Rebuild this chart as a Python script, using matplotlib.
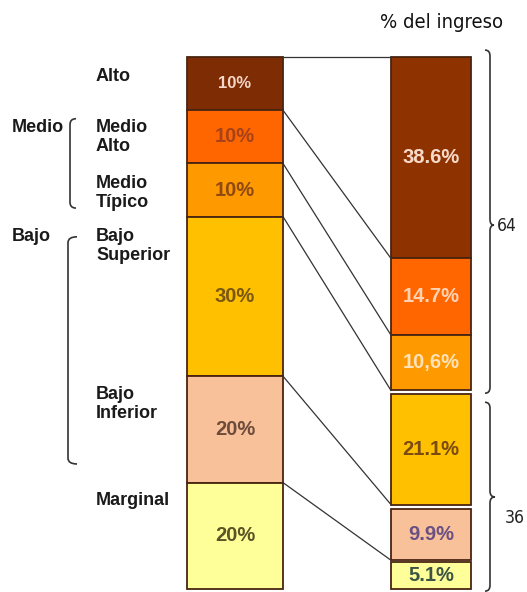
import matplotlib
matplotlib.use("Agg")
import matplotlib.pyplot as plt
from matplotlib.path import Path
from matplotlib.patches import PathPatch
from matplotlib import font_manager
from matplotlib.font_manager import FontProperties
import numpy as np

# Population strata (share of households) and their share of income
strata = ["Alto", "Medio\nAlto", "Medio\nTípico", "Bajo\nSuperior", "Bajo\nInferior", "Marginal"]
poblacion = [10, 10, 10, 30, 20, 20]
ingreso = [38.6, 14.7, 10.6, 21.1, 9.9, 5.1]
ingreso_labels = ["38.6%", "14.7%", "10,6%", "21.1%", "9.9%", "5.1%"]
grupos = ["Medio", "Bajo"]
totales = ["64", "36"]

colores = ["#7E2C04", "#FF6600", "#FF9900", "#FFC000", "#F9C19A", "#FFFF99"]
colores_der = ["#8E3200", "#FF6600", "#FF9900", "#FFC000", "#F9C19A", "#FFFF99"]
txt_izq = ["#F6D6C6", "#A8421A", "#8E4A10", "#7A5810", "#6E4C3C", "#5A5426"]
txt_der = ["#F8DACA", "#FFD2B4", "#FFE2B8", "#7A4A10", "#6A5084", "#3C5444"]

plt.rcParams["font.family"] = ["Liberation Sans", "DejaVu Sans"]


def pick_narrow():
    """A condensed sans-serif regular face for the plain annotations."""
    fonts = font_manager.fontManager.ttflist
    for f in fonts:
        if f.name == "Liberation Sans Narrow" and f.style == "normal" and f.weight in (400, "normal"):
            return FontProperties(fname=f.fname)
    for f in fonts:
        base = f.fname.rsplit("/", 1)[-1]
        if base in ("DejaVuSansCondensed.ttf", "OpenSans_Condensed-Regular.ttf"):
            return FontProperties(fname=f.fname)
    return FontProperties(family="Liberation Sans")


narrow_fp = pick_narrow()

PX = 5.32  # pixels per percentage point
Y0 = 57    # pixel row of 0 %
fig = plt.figure(figsize=(5.27, 5.92), dpi=100)
ax = fig.add_axes([0, 0, 1, 1])
ax.set_xlim(0, 527)
ax.set_ylim((592 - Y0) / PX, -Y0 / PX)
ax.axis("off")

# Left bar: share of population
xl, wl = 235, 96
bot_l = np.concatenate([[0], np.cumsum(poblacion)[:-1]])
ax.bar(xl, poblacion, bottom=bot_l, width=wl, color=colores,
       edgecolor="#4A2410", linewidth=1.3)
for i, (b, v) in enumerate(zip(bot_l, poblacion)):
    ax.text(xl, b + v / 2, f"{v}%", ha="center", va="center",
            fontsize=12 if i == 0 else 14.5, fontweight="bold", color=txt_izq[i])

# Right bar: share of income, with small gaps between the lower segments
gaps = [0, 0, 0, 0.75, 0.75, 0.4]
k = (100 - sum(gaps)) / 100
xr, wr = 431, 80
bot_r = []
pos = 0
for g, v in zip(gaps, ingreso):
    pos += g
    bot_r.append(pos)
    pos += v * k
h_r = [v * k for v in ingreso]
ax.bar(xr, h_r, bottom=bot_r, width=wr, color=colores_der,
       edgecolor="#4A2410", linewidth=1.3)
for i, (b, h) in enumerate(zip(bot_r, h_r)):
    ax.text(xr, b + h / 2, ingreso_labels[i], ha="center", va="center",
            fontsize=14.5, fontweight="bold", color=txt_der[i])

# Connector lines between matching boundaries
x1, x2 = xl + wl / 2, xr - wr / 2
ax.plot([x1, x2], [0, bot_r[0]], color="#333333", lw=0.9)
cum_l = np.cumsum(poblacion)
for i in range(5):
    ax.plot([x1, x2], [cum_l[i], bot_r[i] + h_r[i]], color="#333333", lw=0.9)

# Stratum labels
label_y = [3.6, 15.0, 25.5, 35.5, 65.2, 83.3]
for s, y in zip(strata, label_y):
    ax.text(96, y, s, ha="left", va="center", fontsize=13, fontweight="bold",
            color="#1A1A1A", linespacing=1.15)
ax.text(12, 13.2, grupos[0], ha="left", va="center", fontsize=13, fontweight="bold", color="#1A1A1A")
ax.text(12, 33.7, grupos[1], ha="left", va="center", fontsize=13, fontweight="bold", color="#1A1A1A")


def brace(xv, ya, yb, hook, tip=None, tip_w=0, h=1.1):
    """Curly bracket along x=xv from ya to yb; hook = horizontal offset of the ends."""
    verts = [(xv + hook, ya), (xv, ya), (xv, ya + h)]
    codes = [Path.MOVETO, Path.CURVE3, Path.CURVE3]
    if tip is not None:
        verts += [(xv, tip - h), (xv, tip), (xv + tip_w, tip),
                  (xv, tip), (xv, tip + h)]
        codes += [Path.LINETO, Path.CURVE3, Path.CURVE3, Path.CURVE3, Path.CURVE3]
    verts += [(xv, yb - h), (xv, yb), (xv + hook, yb)]
    codes += [Path.LINETO, Path.CURVE3, Path.CURVE3]
    ax.add_patch(PathPatch(Path(verts, codes), fill=False, edgecolor="#333333", lw=1.2))


brace(70, 11.6, 28.4, 6)
brace(68, 33.8, 76.5, 9)
brace(490, -1.3, 63.2, -5, tip=31.6, tip_w=4)
brace(490, 64.9, 100.4, -5, tip=82.7, tip_w=5)

t64 = ax.text(497, 31.8, totales[0], ha="left", va="center", fontproperties=narrow_fp,
              fontsize=15, color="#222222")
t36 = ax.text(505, 86.6, totales[1], ha="left", va="center", fontproperties=narrow_fp,
              fontsize=15, color="#222222")
title = ax.text(442, (22 - Y0) / PX, "% del ingreso", ha="center", va="center",
                fontproperties=narrow_fp, fontsize=17.5, color="#111111")

# Size the plain annotations to their intended widths in pixels
fig.canvas.draw()
r = fig.canvas.get_renderer()
for t, w in ((title, 123), (t64, 20), (t36, 20)):
    cur = t.get_window_extent(r).width
    t.set_fontsize(t.get_fontsize() * w / cur)

fig.savefig("out.png", dpi=100, facecolor="white")
